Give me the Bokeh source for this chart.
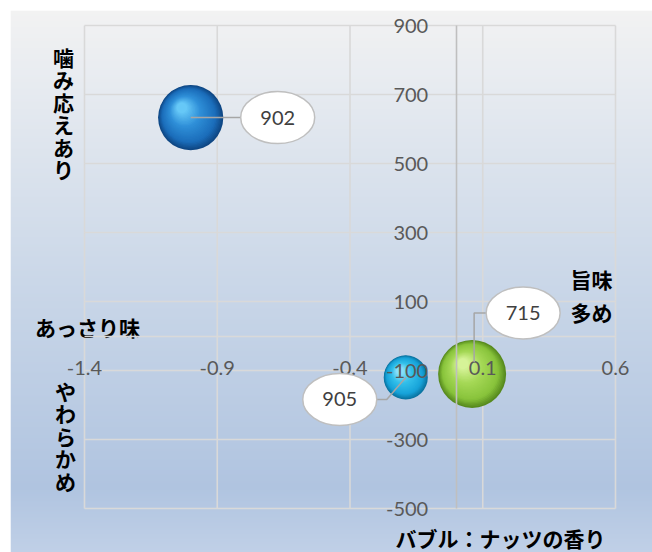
import numpy as np
from bokeh.plotting import figure
from bokeh.models import Range1d, LinearAxis, FixedTicker
from bokeh.core.properties import value
from bokeh.embed import file_html
from bokeh.resources import INLINE

# ---------------- data ----------------
sample_ids = ["902", "905", "715"]
umami = [-1.0, -0.19, 0.06]          # x : あっさり味 ⇔ 旨味多め
chewiness = [633, -120, -110]        # y : やわらかめ ⇔ 噛み応えあり
nut_aroma = [2.3, 1.05, 2.5]         # bubble size : ナッツの香り
x_ticks = [-1.4, -0.9, -0.4, 0.1, 0.6]
x_tick_labels = ["-1.4", "-0.9", "-0.4", "0.1", "0.6"]
y_ticks = [-500, -300, -100, 100, 300, 500, 700, 900]
y_tick_labels = ["-500", "-300", "-100", "100", "300", "500", "700", "900"]

# ---------------- layout / style ----------------
W, H = 652, 552
BL, BT = 10, 10
FW, FH = W - BL, H - BT
PAD_L, PAD_R, PAD_T, PAD_B = 74, 37, 15, 44
X_MIN, X_MAX = x_ticks[0], x_ticks[-1]
Y_MIN, Y_MAX = y_ticks[0], y_ticks[-1]
sx = (FW - PAD_L - PAD_R) / (X_MAX - X_MIN)
sy = (FH - PAD_T - PAD_B) / (Y_MAX - Y_MIN)
x_start, x_end = X_MIN - PAD_L / sx, X_MAX + PAD_R / sx
y_start, y_end = Y_MIN - PAD_B / sy, Y_MAX + PAD_T / sy


def X(px):
    return x_start + (px - BL) / sx


def Y(py):
    return y_end - (py - BT) / sy


p = figure(width=W, height=H, x_range=Range1d(x_start, x_end), y_range=Range1d(y_start, y_end),
           x_axis_type=None, y_axis_type=None, toolbar_location=None, output_backend="svg",
           min_border_left=BL, min_border_top=BT, min_border_right=0, min_border_bottom=0,
           border_fill_color="white", outline_line_color=None)

# background gradient
stops = [(0.0, (242, 242, 242)), (0.1, (234, 237, 241)), (0.5, (202, 215, 232)),
         (0.88, (176, 196, 224)), (1.0, (192, 208, 231))]
GH = FH
img = np.empty((GH, 2), dtype=np.uint32)
view = img.view(dtype=np.uint8).reshape((GH, 2, 4))
ts = np.array([s[0] for s in stops])
for i in range(GH):
    t = 1 - i / (GH - 1)
    for c in range(3):
        view[i, :, c] = int(round(np.interp(t, ts, [s[1][c] for s in stops])))
    view[i, :, 3] = 255
p.image_rgba(image=[img], x=x_start, y=y_start, dw=x_end - x_start, dh=y_end - y_start)

# grid lines
grid_col = "#d9d9d9"
p.segment(x0=x_ticks, y0=[Y_MIN] * len(x_ticks), x1=x_ticks, y1=[Y_MAX] * len(x_ticks),
          line_color=grid_col, line_width=1.6)
p.segment(x0=[X_MIN] * len(y_ticks), y0=y_ticks, x1=[X_MAX] * len(y_ticks), y1=y_ticks,
          line_color=grid_col, line_width=1.6)

# glossy bubbles
palettes = [
    ("#0f4784", "#1b6dba", "#2f8fd8", "#66c8f7"),
    ("#0a73a0", "#17a3d9", "#33bfea", "#8ae0f9"),
    ("#578a1e", "#88c33b", "#a5d856", "#d6f398"),
]


def hex2rgb(h):
    return np.array([int(h[i:i + 2], 16) for i in (1, 3, 5)], dtype=float)


R_MAX = 34
smax = max(nut_aroma)
N = 28
bx, by, bs, bc = [], [], [], []
for xi, yi, si, pal in zip(umami, chewiness, nut_aroma, palettes):
    r = R_MAX * np.sqrt(si / smax)
    cols = [hex2rgb(h) for h in pal]
    cst = [0.0, 0.2, 0.62, 1.0]
    for k in range(N):
        t = k / (N - 1)
        rr = r * (1 - 0.84 * t)
        ox, oy = -0.27 * r * t, 0.30 * r * t
        rgb = [np.interp(t, cst, [c[j] for c in cols]) for j in range(3)]
        bx.append(xi + ox / sx)
        by.append(yi + oy / sy)
        bs.append(2 * rr)
        bc.append("#%02x%02x%02x" % tuple(int(round(v)) for v in rgb))
p.scatter(x=bx, y=by, size=bs, marker="circle", fill_color=bc, line_color=None)

# axes crossing at 0
lab_col = "#595959"
yax = LinearAxis(fixed_location=0, bounds=(Y_MIN, Y_MAX), ticker=FixedTicker(ticks=y_ticks),
                 major_label_overrides={t: l for t, l in zip(y_ticks, y_tick_labels)},
                 axis_line_color="#bfbfbf", axis_line_width=1.6,
                 major_tick_line_color=None, minor_tick_line_color=None,
                 major_label_standoff=22, major_label_text_font="Lato",
                 major_label_text_font_size="20px", major_label_text_color=lab_col)
p.add_layout(yax, "left")
xax = LinearAxis(fixed_location=0, bounds=(X_MIN, X_MAX), ticker=FixedTicker(ticks=x_ticks),
                 major_label_overrides={t: l for t, l in zip(x_ticks, x_tick_labels)},
                 axis_line_color=grid_col, axis_line_width=1.6,
                 major_tick_line_color=None, minor_tick_line_color=None,
                 major_label_standoff=19, major_label_text_font="Lato",
                 major_label_text_font_size="20px", major_label_text_color=lab_col)
p.add_layout(xax, "below")

# data-label callouts (offsets in screen px: right, down)
callout_off = [(87, 0), (-66, 22), (51, -61)]
bend_kind = ["straight", "near_label", "vertical"]
EW, EH = 74, 52
lx, ly, lxs, lys = [], [], [], []
for xi, yi, (ox, oy), kind in zip(umami, chewiness, callout_off, bend_kind):
    cx = xi + ox / sx
    cy = yi - oy / sy
    lx.append(cx)
    ly.append(cy)
    edge = cx - (EW / 2) / sx if ox > 0 else cx + (EW / 2) / sx
    if kind == "straight":
        xs_, ys_ = [xi, edge], [yi, cy]
    elif kind == "near_label":
        xs_, ys_ = [xi, edge + 10 / sx, edge], [yi, cy, cy]
    else:
        xs_, ys_ = [xi + 2 / sx, xi + 2 / sx, edge], [yi + 12 / sy, cy, cy]
    lxs.append(xs_)
    lys.append(ys_)
p.multi_line(xs=lxs, ys=lys, line_color="#a6a6a6", line_width=1.5, level="annotation")
p.ellipse(x=lx, y=ly, width=EW / sx, height=EH / sy, fill_color="white",
          line_color="#bfbfbf", line_width=1.5, level="annotation")
p.text(x=lx, y=ly, text=sample_ids, text_font=value("Lato"), text_font_size="20px",
       text_color="#404040", text_align="center", text_baseline="middle", level="annotation")

# quadrant captions
jp = dict(text_font=value("Noto Sans CJK JP"), text_font_style="bold", text_font_size="21px",
          text_color="black", text_align="center", text_baseline="middle")


def vertical(label, px, py_top, pitch=22.5):
    chars = list(label)
    p.text(x=[X(px)] * len(chars), y=[Y(py_top + pitch * (k + 0.5)) for k in range(len(chars))],
           text=chars, **jp)


vertical("噛み応えあり", 63, 45)
vertical("やわらかめ", 65, 379)
p.text(x=[X(87)], y=[Y(326)], text=["あっさり味"], **jp)
p.text(x=[X(591), X(591)], y=[Y(278), Y(311)], text=["旨味", "多め"], **jp)
p.text(x=[X(500)], y=[Y(537)], text=["バブル：ナッツの香り"], **jp)

open("out.html", "w").write(file_html(p, INLINE))
